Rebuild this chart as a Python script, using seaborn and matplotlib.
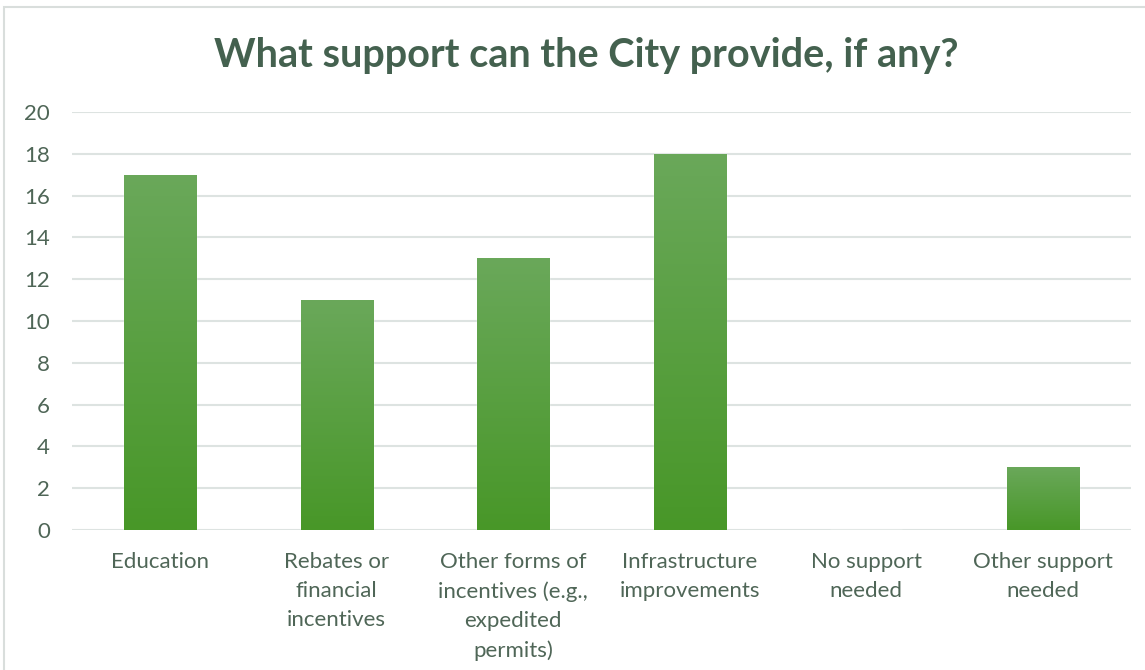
import numpy as np
import pandas as pd
import matplotlib
matplotlib.use("Agg")
import matplotlib.pyplot as plt
import seaborn as sns
from matplotlib.patches import Rectangle
from matplotlib.colors import LinearSegmentedColormap

categories = ["Education", "Rebates or\nfinancial\nincentives",
              "Other forms of\nincentives (e.g.,\nexpedited\npermits)",
              "Infrastructure\nimprovements", "No support\nneeded",
              "Other support\nneeded"]
values = [17, 11, 13, 18, 0, 3]
yticks = [0, 2, 4, 6, 8, 10, 12, 14, 16, 18, 20]
title = "What support can the City provide, if any?"

sns.set_theme(style="white")
plt.rcParams['font.family'] = ['Lato', 'DejaVu Sans']

text_color = "#4f6657"
grid_color = "#dde3e1"

df = pd.DataFrame({"cat": categories, "val": values})
fig = plt.figure(figsize=(11.45, 6.7), dpi=100)
ax = fig.add_axes([72/1145, 1 - 530/670, (1131-72)/1145, (530-112)/670])
sns.barplot(data=df, x="cat", y="val", ax=ax, color="#55a03a", width=0.41,
            saturation=1)
ax.set_ylim(0, 20)
ax.set_yticks(yticks)
ax.set_xlim(-0.5, len(categories) - 0.5)
ax.grid(axis="y", color=grid_color, linewidth=1.5)
ax.set_axisbelow(True)
for s in ax.spines.values():
    s.set_visible(False)
ax.set_xlabel("")
ax.set_ylabel("")
ax.tick_params(axis="y", colors=text_color, labelsize=16, length=0, pad=16)
ax.tick_params(axis="x", colors=text_color, labelsize=16, length=0, pad=16)
for lab in ax.get_xticklabels():
    lab.set_linespacing(1.56)
    lab.set_verticalalignment("top")

# gradient fill on each bar
cmap = LinearSegmentedColormap.from_list("g", ["#489728", "#6aa85a"])
grad = np.linspace(0, 1, 256).reshape(-1, 1)
for p in list(ax.patches):
    h = p.get_height()
    if h <= 0:
        continue
    x0 = p.get_x(); w = p.get_width()
    im = ax.imshow(grad, cmap=cmap, origin="lower", aspect="auto",
                   extent=[x0, x0 + w, 0, h], zorder=p.get_zorder() + 0.1)
    im.set_clip_path(p)
ax.set_xlim(-0.5, len(categories) - 0.5)
ax.set_ylim(0, 20)

fig.text(586.5/1145, 1 - 56/670, title, ha="center", va="center", fontsize=28.5,
         fontweight="bold", color="#44614f")
fig.patches.append(Rectangle((4/1145, -0.1), 1.2, 1 - 7/670 + 0.1,
                             transform=fig.transFigure, fill=False,
                             edgecolor="#d9dedc", linewidth=1.5))
fig.savefig("out.png", dpi=100)
